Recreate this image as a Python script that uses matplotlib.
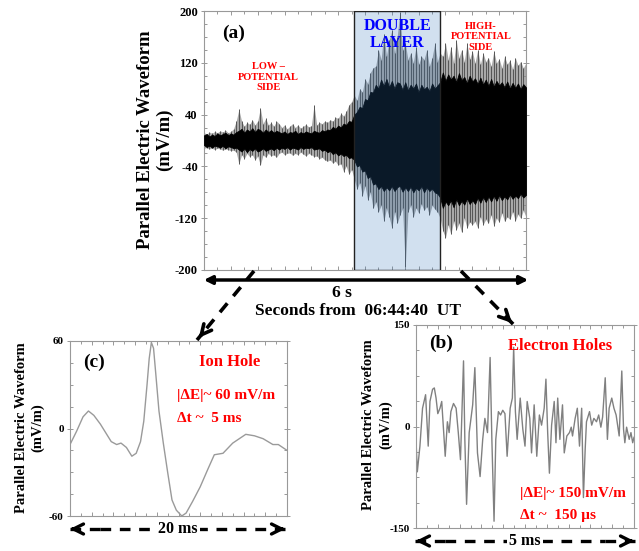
import numpy as np
import matplotlib
matplotlib.use("Agg")
import matplotlib.pyplot as plt
from matplotlib.ticker import MultipleLocator, AutoMinorLocator
from matplotlib.patches import FancyArrowPatch
from matplotlib.lines import Line2D

plt.rcParams['font.family'] = ['Liberation Serif', 'DejaVu Serif']
plt.rcParams['font.weight'] = 'bold'

W, H = 639, 551

## panel (a): envelope of the waveform, sampled every 0.05 s over 6 s
t_a = np.arange(121) * 0.05
core_up = [8, 10, 6, 9, 7, 11, 8, 10, 12, 8, 11, 9, 13,
           15, 18, 12, 17, 14, 19, 13, 18, 16, 12, 17, 13, 16, 12, 15, 13,
           11, 14, 10, 13, 12, 15, 10, 13, 11, 14, 12, 11, 15, 13, 12, 16, 14, 17,
           16, 21, 18, 23, 20, 26, 24, 30, 29,
           40, 44, 52, 50, 64, 62, 75, 74,
           86, 80, 94, 84, 95, 82, 92, 80, 90,
           88, 78, 90, 77, 86, 80, 88, 74, 86, 79, 83, 76, 88, 80, 85, 90,
           105, 92, 102, 94, 100, 90, 104, 93, 98, 88, 100, 91,
           96, 87, 97, 86, 94, 84, 95, 83, 92, 85, 90, 82, 91, 80, 89, 81, 88, 79, 87, 82]
core_lo = [-7, -10, -8, -11, -8, -9, -11, -8, -12, -9, -10, -12, -11,
           -14, -17, -12, -18, -13, -16, -12, -17, -15, -12, -16, -14, -12, -15, -11, -14,
           -11, -13, -10, -14, -11, -12, -14, -10, -13, -11, -12, -10, -14, -13, -12, -16, -14, -18,
           -16, -21, -18, -23, -20, -24, -22, -27, -26,
           -30, -40, -38, -48, -46, -58, -55, -68,
           -66, -75, -70, -78, -72, -77, -70, -78, -72,
           -70, -79, -72, -78, -71, -80, -73, -77, -70, -80, -72, -78, -74, -80, -82, -88,
           -104, -94, -100, -92, -103, -90, -100, -93, -99, -89, -98, -92,
           -98, -88, -96, -87, -95, -86, -94, -85, -93, -84, -92, -86, -91, -83, -90, -85, -89, -82, -88, -84]
spike_up = [12, 10, 13, 11, 14, 12, 15, 13, 16, 12, 14, 18, 30,
            48, 30, 22, 28, 25, 32, 24, 30, 50, 26, 34, 24, 28, 22, 30, 26,
            20, 24, 18, 22, 26, 20, 24, 19, 22, 25, 21, 23, 55, 24, 28, 26, 30, 28,
            32, 30, 36, 34, 42, 38, 45, 55, 60,
            70, 62, 80, 75, 95, 88, 105, 112,
            115, 140, 125, 165, 130, 155, 170, 135, 160,
            198, 140, 150, 125, 135, 120, 145, 118, 130, 125, 140, 115, 128, 150, 122, 135,
            130, 150, 125, 145, 120, 155, 128, 140, 122, 150, 126, 138,
            120, 140, 118, 135, 122, 128, 115, 138, 120, 126, 112, 130, 118, 124, 110, 128, 116, 122, 112, 120]
spike_lo = [-12, -11, -13, -12, -14, -12, -13, -15, -13, -14, -16, -15, -18,
            -36, -22, -28, -20, -25, -22, -30, -24, -38, -22, -26, -20, -24, -22, -26, -20,
            -18, -22, -20, -19, -23, -20, -22, -18, -21, -24, -20, -22, -25, -24, -28, -26, -30, -32,
            -30, -35, -32, -38, -36, -48, -40, -52, -45,
            -60, -75, -65, -85, -70, -92, -80, -105,
            -95, -110, -100, -125, -105, -118, -135, -110, -128,
            -115, -105, -195, -110, -100, -118, -104, -112, -98, -108, -102, -115, -100, -106, -110, -120,
            -140, -150, -130, -145, -125, -138, -128, -142, -120, -135, -126, -130,
            -125, -135, -118, -130, -122, -128, -115, -132, -120, -126, -112, -125, -118, -122, -110, -124, -114, -120, -108, -118]
dl_start, dl_end = 2.8, 4.4
a_yticks = [200, 120, 40, -40, -120, -200]

## panel (c): ion hole, 20 ms
t_c = [0.0, 0.6, 1.2, 1.7, 2.2, 2.8, 3.3, 3.8, 4.3, 4.7, 5.2, 5.7, 6.1, 6.5, 6.8, 7.1,
       7.3, 7.5, 7.7, 7.9, 8.2, 8.6, 9.0, 9.4, 9.8, 10.3, 10.7, 11.3, 12.0, 12.7,
       13.3, 14.1, 15.0, 15.6, 16.2, 17.0, 17.8, 18.7, 19.2, 20.0]
v_c = [-11, -2, 8, 12, 9, 3, -3, -9, -11, -10, -13, -19, -17, -9, 5, 30,
       48, 59, 55, 38, 12, -10, -30, -49, -56, -60, -58, -50, -40, -28,
       -18, -17, -10, -7, -4, -5, -7, -11, -11, -15]
c_yticks = [60, 0, -60]

## panel (b): electron holes, 5 ms
t_b = [0.00, 0.03, 0.09, 0.15, 0.22, 0.28, 0.32, 0.38, 0.42, 0.46, 0.50, 0.55, 0.59, 0.67,
       0.72, 0.76, 0.80, 0.86, 0.92, 0.97, 1.02, 1.09, 1.12, 1.16, 1.22, 1.30, 1.35, 1.41,
       1.47, 1.53, 1.58, 1.64, 1.70, 1.74, 1.79, 1.83, 1.89, 1.94, 1.99, 2.04, 2.09, 2.16,
       2.21, 2.24, 2.28, 2.32, 2.39, 2.45, 2.50, 2.55, 2.61, 2.65, 2.71, 2.77, 2.83, 2.88,
       2.94, 2.98, 3.02, 3.06, 3.11, 3.17, 3.21, 3.25, 3.30, 3.36, 3.40, 3.46, 3.52, 3.56,
       3.59, 3.65, 3.70, 3.75, 3.80, 3.84, 3.88, 3.91, 3.98, 4.03, 4.08, 4.14, 4.19, 4.24,
       4.28, 4.34, 4.39, 4.43, 4.49, 4.54, 4.59, 4.66, 4.72, 4.76, 4.79, 4.83, 4.89, 4.93,
       4.97, 5.00]
v_b = [-20, -67, -29, 27, 47, -29, 37, 55, 57, 42, 19, 27, 37, -44,
       7, -9, 22, 34, 27, -9, -49, 97, -19, -115, -9, 32, 87, -39,
       -74, -19, 12, -9, 102, -19, -140, -19, 22, 17, 24, 19, -44, 27,
       42, 117, 22, -19, 42, -4, -29, 37, 12, -39, 32, -44, 17, 2,
       27, 70, -9, -69, 2, 37, -24, 42, -19, 32, -39, -14, -9, -1,
       -14, 12, 27, -29, 27, -105, -34, 7, 22, 2, 12, 7, 17, -1,
       14, 72, -19, 27, 42, 27, 17, -14, 82, -4, -24, -1, -19, -9,
       -24, -16]
b_yticks = [150, 0, -150]


def fx(x):
    return x / W


def fy(y):
    return 1 - y / H


def style_axes(ax, yticks, ylim, xlim, xmajor, tick_fs):
    ax.set_xlim(*xlim)
    ax.set_ylim(*ylim)
    ax.set_yticks(yticks)
    ax.set_yticklabels([str(v) for v in yticks], fontsize=tick_fs, fontweight='bold')
    ax.yaxis.set_minor_locator(AutoMinorLocator(4))
    ax.xaxis.set_major_locator(MultipleLocator(xmajor))
    ax.xaxis.set_minor_locator(AutoMinorLocator(2))
    ax.set_xticklabels([])
    ax.tick_params(which='both', direction='in', top=True, right=True,
                   color='#888888', width=0.6, pad=2)
    ax.tick_params(which='major', length=3)
    ax.tick_params(which='minor', length=2)
    ax.tick_params(axis='y', which='major', direction='inout', length=5)
    for s in ax.spines.values():
        s.set_color('#999999')
        s.set_linewidth(0.8)


fig = plt.figure(figsize=(6.39, 5.51), dpi=100)

# ---- panel (a)
ax_a = fig.add_axes([fx(204), fy(270), fx(526) - fx(204), fy(11) - fy(270)])
ax_a.fill_between(t_a, spike_lo, spike_up, color='#a9a9a9', lw=0, zorder=1)
ax_a.vlines(t_a, spike_lo, spike_up, color='#555555', lw=0.7, zorder=2)
ax_a.fill_between(t_a, core_lo, core_up, color='black', lw=0.6, zorder=3)
ax_a.axvspan(dl_start, dl_end, facecolor=(0.18, 0.45, 0.73, 0.22),
             edgecolor='#222222', lw=1.0, zorder=4)
style_axes(ax_a, a_yticks, (-200, 200), (0, 6), 0.5, 9)
ax_a.text(0.055, 0.915, '(a)', transform=ax_a.transAxes, fontsize=14,
          fontweight='bold', va='center', ha='left')
ax_a.text(0.2, 0.745, 'LOW –\nPOTENTIAL\nSIDE', transform=ax_a.transAxes,
          color='red', fontsize=7.5, fontweight='bold', ha='center', va='center',
          linespacing=1.25)
ax_a.text((dl_start + dl_end) / 12, 0.91, 'DOUBLE\nLAYER', transform=ax_a.transAxes,
          color='blue', fontsize=11.5, fontweight='bold', ha='center', va='center',
          linespacing=1.1, zorder=5)
ax_a.text(0.86, 0.9, 'HIGH-\nPOTENTIAL\nSIDE', transform=ax_a.transAxes,
          color='red', fontsize=7.5, fontweight='bold', ha='center', va='center',
          linespacing=1.25)
fig.text(fx(145), fy(140), 'Parallel Electric Waveform', rotation=90,
         fontsize=13.5, fontweight='bold', ha='center', va='center')
fig.text(fx(164), fy(140), '(mV/m)', rotation=90,
         fontsize=13.5, fontweight='bold', ha='center', va='center')
fig.text(fx(342), fy(293), '6 s', fontsize=12.5, fontweight='bold', ha='center', va='center')
fig.text(fx(358), fy(311), 'Seconds from  06:44:40  UT', fontsize=12.5,
         fontweight='bold', ha='center', va='center')

fig.add_artist(FancyArrowPatch((fx(201), fy(280)), (fx(531), fy(280)),
                               transform=fig.transFigure, arrowstyle='<|-|>',
                               mutation_scale=12, lw=2.5, color='black'))


def dashed_arrow(p0, p1, lw=2.6):
    x0, y0 = p0
    x1, y1 = p1
    fig.add_artist(Line2D([fx(x0), fx(x1)], [fy(y0), fy(y1)], transform=fig.transFigure,
                          color='black', lw=lw, ls=(0, (3.2, 2.6))))
    d = np.hypot(x1 - x0, y1 - y0)
    ux, uy = (x1 - x0) / d, (y1 - y0) / d
    fig.add_artist(FancyArrowPatch((fx(x1 - 10 * ux), fy(y1 - 10 * uy)), (fx(x1), fy(y1)),
                                   transform=fig.transFigure, arrowstyle='->',
                                   mutation_scale=18, lw=lw, color='black'))


dashed_arrow((254, 271), (197, 340))
dashed_arrow((461, 271), (514, 325))

# ---- panel (c)
ax_c = fig.add_axes([fx(70), fy(516), fx(287) - fx(70), fy(341) - fy(516)])
ax_c.plot(t_c, v_c, color='#9a9a9a', lw=1.0)
style_axes(ax_c, c_yticks, (-60, 60), (0, 20), 2, 8)
ax_c.text(0.06, 0.88, '(c)', transform=ax_c.transAxes, fontsize=14,
          fontweight='bold', va='center', ha='left')
ax_c.text(0.735, 0.88, 'Ion Hole', transform=ax_c.transAxes, color='red',
          fontsize=12, fontweight='bold', ha='center', va='center')
ax_c.text(0.72, 0.69, '|ΔE|~ 60 mV/m', transform=ax_c.transAxes, color='red',
          fontsize=11, fontweight='bold', ha='center', va='center')
ax_c.text(0.64, 0.56, 'Δt ~  5 ms', transform=ax_c.transAxes, color='red',
          fontsize=11, fontweight='bold', ha='center', va='center')
fig.text(fx(22), fy(428), 'Parallel Electric Waveform', rotation=90,
         fontsize=10.5, fontweight='bold', ha='center', va='center')
fig.text(fx(38), fy(428), '(mV/m)', rotation=90,
         fontsize=10.5, fontweight='bold', ha='center', va='center')
dashed_arrow((100, 529), (67, 529), lw=2.4)
dashed_arrow((255, 529), (288, 529), lw=2.4)
fig.add_artist(Line2D([fx(100), fx(255)], [fy(529), fy(529)], transform=fig.transFigure,
                      color='black', lw=2.4, ls=(0, (3.2, 2.6))))
fig.text(fx(178), fy(529), '20 ms', fontsize=11.5, fontweight='bold', ha='center',
         va='center', bbox=dict(fc='white', ec='none', pad=1.5))

# ---- panel (b)
ax_b = fig.add_axes([fx(416), fy(528), fx(634) - fx(416), fy(325) - fy(528)])
ax_b.plot(t_b, v_b, color='#808080', lw=1.0)
style_axes(ax_b, b_yticks, (-150, 150), (0, 5), 0.5, 8)
ax_b.text(0.06, 0.91, '(b)', transform=ax_b.transAxes, fontsize=14,
          fontweight='bold', va='center', ha='left')
ax_b.text(0.66, 0.895, 'Electron Holes', transform=ax_b.transAxes, color='red',
          fontsize=12, fontweight='bold', ha='center', va='center')
ax_b.text(0.72, 0.17, '|ΔE|~ 150 mV/m', transform=ax_b.transAxes, color='red',
          fontsize=11, fontweight='bold', ha='center', va='center')
ax_b.text(0.65, 0.06, 'Δt ~  150 µs', transform=ax_b.transAxes, color='red',
          fontsize=11, fontweight='bold', ha='center', va='center')
fig.text(fx(368), fy(425), 'Parallel Electric Waveform', rotation=90,
         fontsize=10.5, fontweight='bold', ha='center', va='center')
fig.text(fx(386), fy(425), '(mV/m)', rotation=90,
         fontsize=10.5, fontweight='bold', ha='center', va='center')
dashed_arrow((445, 541), (413, 541), lw=2.4)
dashed_arrow((605, 541), (637, 541), lw=2.4)
fig.add_artist(Line2D([fx(445), fx(605)], [fy(541), fy(541)], transform=fig.transFigure,
                      color='black', lw=2.4, ls=(0, (3.2, 2.6))))
fig.text(fx(525), fy(541), '5 ms', fontsize=11.5, fontweight='bold', ha='center',
         va='center', bbox=dict(fc='white', ec='none', pad=1.5))

fig.savefig('out.png', dpi=100)
